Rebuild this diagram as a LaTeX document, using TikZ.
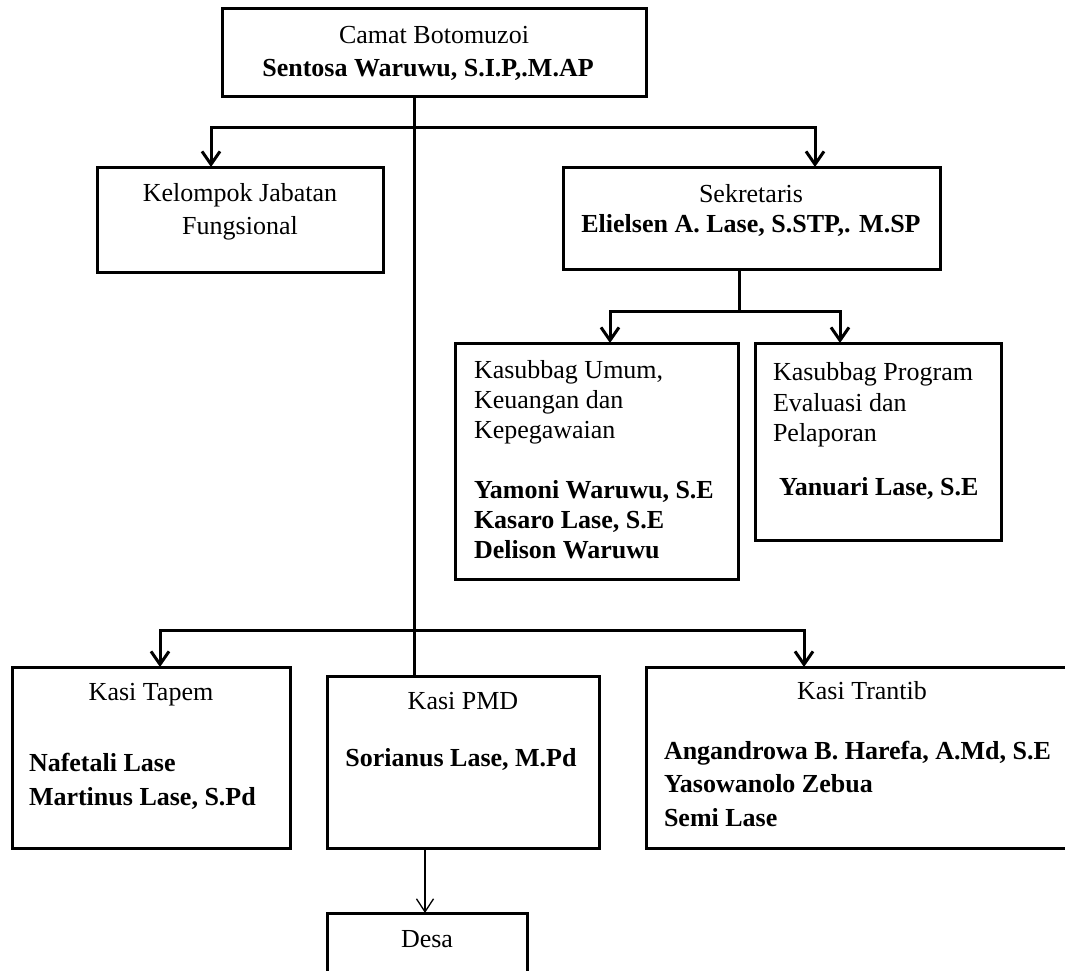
\documentclass[tikz,border=0pt]{standalone}
\usepackage{fontspec}
\setmainfont{Liberation Serif}
\usetikzlibrary{arrows.meta}
\tikzset{
  box/.style={draw, line width=3pt, inner sep=0pt, outer sep=0pt},
  conn/.style={line width=3pt},
  arr/.style={line width=3pt, -{Straight Barb[length=13pt,width=18pt]}},
  thinarr/.style={line width=1.3pt, -{Straight Barb[length=13pt,width=17pt]}},
  txt/.style={inner sep=0pt, outer sep=0pt, font=\fontsize{26}{30}\selectfont},
  btxt/.style={txt, font=\fontsize{26}{30}\selectfont\bfseries},
}
\begin{document}
\begin{tikzpicture}[x=1pt,y=-1pt]
\useasboundingbox (0,0) rectangle (1065,971);
% boxes
\node[box, minimum width=424pt, minimum height=88pt] (camat) at (434,53) {};
\node[box, minimum width=286pt, minimum height=105pt] (kel) at (240,219.5) {};
\node[box, minimum width=377pt, minimum height=102pt] (sek) at (751.5,218) {};
\node[box, minimum width=283pt, minimum height=236pt] (umum) at (596.5,461) {};
\node[box, minimum width=246pt, minimum height=197pt] (prog) at (878,441.5) {};
\node[box, minimum width=278pt, minimum height=181pt] (tapem) at (151,757.5) {};
\node[box, minimum width=272pt, minimum height=172pt] (pmd) at (463,762) {};
\node[box, minimum width=422pt, minimum height=181pt] (trantib) at (857,757.5) {};
\node[box, minimum width=200pt, minimum height=100pt] (desa) at (427,963) {};
% texts
\node[txt, anchor=base] (camatA) at (434,44) {Camat Botomuzoi};
\node[btxt, anchor=base] (camatB) at (428,77) {Sentosa Waruwu, S.I.P,.M.AP};
\node[txt, anchor=base] (kelA) at (240,201) {Kelompok Jabatan};
\node[txt, anchor=base] (kelB) at (240,234) {Fungsional};
\node[txt, anchor=base] (sekA) at (751,202) {Sekretaris};
\node[btxt, anchor=base] (sekB) at (751,232) {Elielsen A. Lase, S.STP,. M.SP};
\node[txt, anchor=base west] (umumA) at (474,378) {Kasubbag Umum,};
\node[txt, anchor=base west] (umumB) at (474,408) {Keuangan dan};
\node[txt, anchor=base west] (umumC) at (474,438) {Kepegawaian};
\node[btxt, anchor=base west] (umumD) at (474,498) {Yamoni Waruwu, S.E};
\node[btxt, anchor=base west] (umumE) at (474,528) {Kasaro Lase, S.E};
\node[btxt, anchor=base west] (umumF) at (474,558) {Delison Waruwu};
\node[txt, anchor=base west] (progA) at (773,380) {Kasubbag Program};
\node[txt, anchor=base west] (progB) at (773,411) {Evaluasi dan};
\node[txt, anchor=base west] (progC) at (773,441) {Pelaporan};
\node[btxt, anchor=base west] (progD) at (779,495) {Yanuari Lase, S.E};
\node[txt, anchor=base] (tapemA) at (151,700) {Kasi Tapem};
\node[btxt, anchor=base west] (tapemB) at (29,771) {Nafetali Lase};
\node[btxt, anchor=base west] (tapemC) at (29,805) {Martinus Lase, S.Pd};
\node[txt, anchor=base] (pmdA) at (463,709) {Kasi PMD};
\node[btxt, anchor=base] (pmdB) at (461,766) {Sorianus Lase, M.Pd};
\node[txt, anchor=base] (trantibA) at (862,699) {Kasi Trantib};
\node[btxt, anchor=base west] (trantibB) at (664,759) {Angandrowa B. Harefa, A.Md, S.E};
\node[btxt, anchor=base west] (trantibC) at (664,792) {Yasowanolo Zebua};
\node[btxt, anchor=base west] (trantibD) at (664,826) {Semi Lase};
\node[txt, anchor=base] (desaA) at (427,947) {Desa};
% junction coordinates
\coordinate (t1) at (414,128);
\coordinate (hk) at (211,128);
\coordinate (hs) at (815,128);
\coordinate (b1) at (414,630);
\coordinate (bt) at (160,630);
\coordinate (br) at (804,630);
\coordinate (s1) at (739,311);
\coordinate (su) at (610,311);
\coordinate (sp) at (840,311);
\coordinate (dx) at (425,0);
% connectors
\draw[conn] (camat.south -| t1) -- (pmd.north -| t1);
\draw[arr] (t1) -| (hk |- kel.north);
\draw[arr] (t1) -| (hs |- sek.north);
\draw[conn] (sek.south -| s1) -- (s1);
\draw[arr] (s1) -| (su |- umum.north);
\draw[arr] (s1) -| (sp |- prog.north);
\draw[arr] (b1) -| (bt |- tapem.north);
\draw[arr] (b1) -| (br |- trantib.north);
\draw[thinarr] (pmd.south -| dx) -- (desa.north -| dx);
\end{tikzpicture}
\end{document}
